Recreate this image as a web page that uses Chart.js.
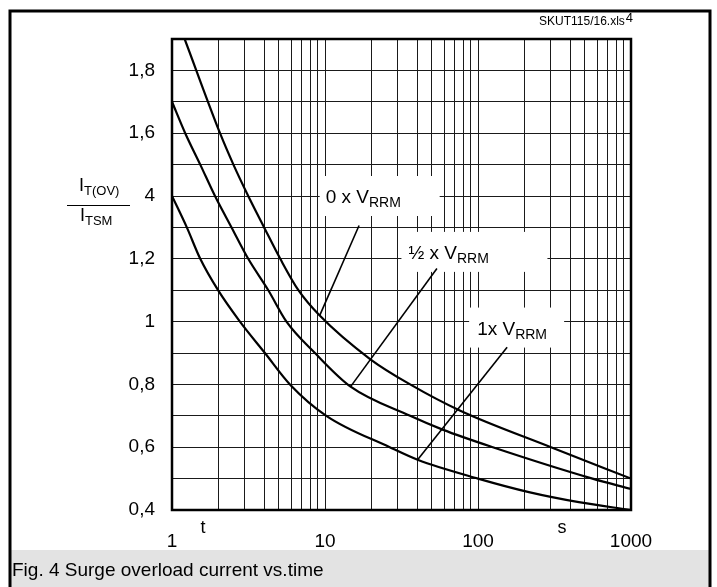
<!DOCTYPE html>
<html>
<head>
<meta charset="utf-8">
<script src="https://cdn.jsdelivr.net/npm/chart.js@4.4.1/dist/chart.umd.min.js"></script>
<style>
  html, body { margin: 0; padding: 0; background: #fff; }
  #wrap { position: relative; width: 717px; height: 587px; }
</style>
</head>
<body>
<div id="wrap"><canvas id="chart" width="717" height="587"></canvas></div>
<script>
const FONT = '"Liberation Sans", Arial, Helvetica, sans-serif';

// x axis: time in s, log scale, grid at 1..9 of every decade
const gridDecades = [1, 10, 100];
const gridSteps = [1, 2, 3, 4, 5, 6, 7, 8, 9];
const xTickValues = [1, 10, 100, 1000];
const xTickLabels = ['1', '10', '100', '1000'];

// y axis: I_T(OV) / I_TSM (the "1,4" is printed as "4" on the sheet)
const yTickValues = [0.4, 0.6, 0.8, 1.0, 1.2, 1.4, 1.6, 1.8];
const yTickLabels = ['0,4', '0,6', '0,8', '1', '1,2', '4', '1,6', '1,8'];

// 0 x VRRM
const tZero = [1.21, 2.06, 2.52, 3.15, 4.0, 5.1, 6.7, 9.2, 19.8, 36, 76, 300, 1000];
const iZero = [1.9, 1.6, 1.5, 1.4, 1.3, 1.2, 1.1, 1.02, 0.88, 0.8, 0.717, 0.6, 0.5];

// 1/2 x VRRM
const tHalf = [1, 1.22, 1.53, 1.91, 2.45, 3.15, 4.26, 5.6, 8.6, 14.7, 36, 58.7, 125, 560, 1000];
const iHalf = [1.7, 1.6, 1.5, 1.4, 1.3, 1.2, 1.1, 1.0, 0.9, 0.793, 0.7, 0.656, 0.6, 0.5, 0.467];

// 1 x VRRM
const tFull = [1, 1.25, 1.53, 2.0, 2.78, 4.05, 5.9, 10.2, 26.5, 40.3, 100, 215, 456, 1000];
const iFull = [1.4, 1.3, 1.2, 1.1, 1.0, 0.9, 0.8, 0.7, 0.6, 0.56, 0.5, 0.457, 0.425, 0.4];

const xGrid = [];
gridDecades.forEach(d => gridSteps.forEach(s => xGrid.push(d * s)));
xGrid.push(1000);
const yGrid = [];
for (let k = 4; k <= 19; k++) yGrid.push(k / 10);

// curve labels: anchor (t, v) is the left/middle of the text
const notes = [
  { main: '0 x V', sub: 'RRM', t: 10.1, v: 1.4, padL: 6, boxW: 120, from: [16.7, 1.306], to: [9.24, 1.02] },
  { main: '\u00bd x V', sub: 'RRM', t: 35.1, v: 1.222, padL: 7, boxW: 146, from: [53.9, 1.169], to: [14.7, 0.793] },
  { main: '1x V', sub: 'RRM', t: 98.7, v: 0.981, padL: 8, boxW: 95, from: [155, 0.918], to: [40.3, 0.56] }
];

function richText(ctx, x, y, parts) {
  parts.forEach(p => {
    ctx.font = p.size + 'px ' + FONT;
    ctx.fillText(p.text, x, y + (p.dy || 0));
    x += ctx.measureText(p.text).width;
  });
}

const decor = {
  id: 'decor',
  beforeDraw(chart) {
    const ctx = chart.ctx;
    ctx.save();
    ctx.fillStyle = '#fff';
    ctx.fillRect(0, 0, chart.width, chart.height);
    ctx.fillStyle = '#e3e3e3';
    ctx.fillRect(10, 550, 700, 40);
    ctx.strokeStyle = '#000';
    ctx.lineWidth = 3;
    ctx.beginPath();
    ctx.moveTo(10, 600); ctx.lineTo(10, 11); ctx.lineTo(710, 11); ctx.lineTo(710, 600);
    ctx.stroke();

    ctx.fillStyle = '#000';
    ctx.textBaseline = 'alphabetic';
    ctx.textAlign = 'left';
    ctx.font = '19px ' + FONT;
    ctx.fillText('Fig. 4 Surge overload current vs.time', 12, 576);

    ctx.font = '12px ' + FONT;
    ctx.fillText('SKUT115/16.xls', 539, 25);
    const w = ctx.measureText('SKUT115/16.xls').width;
    ctx.font = '13px ' + FONT;
    ctx.fillText('4', 539 + w + 1, 22);

    // y axis title as a fraction
    richText(ctx, 79, 191, [{ text: 'I', size: 18 }, { text: 'T(OV)', size: 13, dy: 4 }]);
    richText(ctx, 80, 221, [{ text: 'I', size: 18 }, { text: 'TSM', size: 13, dy: 4 }]);
    ctx.lineWidth = 1;
    ctx.beginPath();
    ctx.moveTo(67, 205.5); ctx.lineTo(130, 205.5);
    ctx.stroke();

    ctx.font = '18px ' + FONT;
    ctx.textAlign = 'center';
    ctx.fillText('t', 203, 533);
    ctx.fillText('s', 562, 533);
    ctx.restore();
  },
  beforeDatasetsDraw(chart) {
    const ctx = chart.ctx;
    const xs = chart.scales.x, ys = chart.scales.y;
    ctx.save();
    notes.forEach(n => {
      const px = xs.getPixelForValue(n.t), py = ys.getPixelForValue(n.v);
      ctx.fillStyle = '#fff';
      ctx.fillRect(px - n.padL, py - 20, n.boxW, 40);
      ctx.fillStyle = '#000';
      ctx.textAlign = 'left';
      ctx.textBaseline = 'alphabetic';
      richText(ctx, px, py + 7, [{ text: n.main, size: 19 }, { text: n.sub, size: 14, dy: 4 }]);
    });
    ctx.restore();
  },
  afterDatasetsDraw(chart) {
    const ctx = chart.ctx;
    const xs = chart.scales.x, ys = chart.scales.y;
    const a = chart.chartArea;
    ctx.save();
    ctx.strokeStyle = '#000';
    ctx.lineWidth = 1.6;
    notes.forEach(n => {
      ctx.beginPath();
      ctx.moveTo(xs.getPixelForValue(n.from[0]), ys.getPixelForValue(n.from[1]));
      ctx.lineTo(xs.getPixelForValue(n.to[0]), ys.getPixelForValue(n.to[1]));
      ctx.stroke();
    });
    ctx.lineWidth = 2.5;
    ctx.strokeRect(a.left, a.top, a.right - a.left, a.bottom - a.top);
    ctx.restore();
  }
};

function series(ts, vs) {
  return ts.map((t, i) => ({ x: t, y: vs[i] }));
}

const curveStyle = {
  showLine: true,
  borderColor: '#000',
  borderWidth: 2.2,
  pointRadius: 0,
  cubicInterpolationMode: 'monotone',
  fill: false
};

new Chart(document.getElementById('chart'), {
  type: 'scatter',
  data: {
    datasets: [
      { label: '0 x VRRM', data: series(tZero, iZero), ...curveStyle },
      { label: '1/2 x VRRM', data: series(tHalf, iHalf), ...curveStyle },
      { label: '1x VRRM', data: series(tFull, iFull), ...curveStyle }
    ]
  },
  options: {
    responsive: false,
    animation: false,
    layout: { padding: { top: 39, right: 86, left: 0, bottom: 0 } },
    plugins: { legend: { display: false }, tooltip: { enabled: false } },
    scales: {
      x: {
        type: 'logarithmic',
        min: 1,
        max: 1000,
        afterBuildTicks: s => { s.ticks = xGrid.map(v => ({ value: v })); },
        afterFit: s => { s.height = 77; },
        grid: { color: '#1a1a1a', lineWidth: 1, drawTicks: false },
        border: { display: false },
        ticks: {
          autoSkip: false,
          maxRotation: 0,
          padding: 20,
          color: '#000',
          font: { family: FONT, size: 19 },
          callback: v => {
            const i = xTickValues.indexOf(v);
            return i >= 0 ? xTickLabels[i] : '';
          }
        }
      },
      y: {
        type: 'linear',
        min: 0.4,
        max: 1.9,
        afterBuildTicks: s => { s.ticks = yGrid.map(v => ({ value: v })); },
        afterFit: s => { s.width = 172; },
        grid: { color: '#1a1a1a', lineWidth: 1, drawTicks: false },
        border: { display: false },
        ticks: {
          padding: 17,
          color: '#000',
          font: { family: FONT, size: 19 },
          callback: v => {
            const i = yTickValues.findIndex(t => Math.abs(t - v) < 1e-6);
            return i >= 0 ? yTickLabels[i] : '';
          }
        }
      }
    }
  },
  plugins: [decor]
});
</script>
</body>
</html>
